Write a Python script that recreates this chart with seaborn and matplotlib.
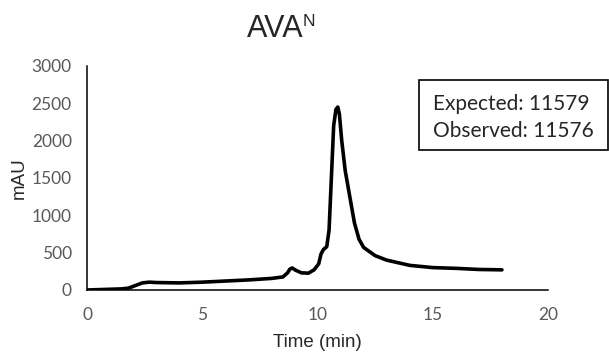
import matplotlib
matplotlib.use('Agg')
import matplotlib.pyplot as plt
from matplotlib.patches import Rectangle
import seaborn as sns
import pandas as pd

# chromatogram trace
time_min = [0, 0.5, 1.0, 1.5, 1.8, 2.1, 2.4, 2.7, 3.0, 4.0, 5.0, 6.0, 7.0, 8.0, 8.5, 8.7,
            8.8, 8.9, 9.05, 9.3, 9.6, 9.85, 10.05, 10.15, 10.25, 10.4, 10.5, 10.6, 10.7,
            10.8, 10.88, 10.95, 11.05, 11.2, 11.4, 11.6, 11.8, 12.0, 12.5, 13.0, 14.0,
            15.0, 16.0, 17.0, 18.0]
mau = [0, 5, 10, 15, 25, 60, 95, 105, 100, 95, 105, 120, 135, 155, 175, 230,
       280, 295, 265, 230, 225, 270, 350, 480, 540, 580, 800, 1500, 2200,
       2420, 2450, 2350, 2000, 1600, 1250, 900, 680, 570, 460, 400, 330,
       300, 290, 275, 270]
x_ticks = [0, 5, 10, 15, 20]
y_ticks = [0, 500, 1000, 1500, 2000, 2500, 3000]
box_lines = ['Expected: 11579', 'Observed: 11576']

df = pd.DataFrame({'time': time_min, 'mau': mau})

sns.set_style('white')
plt.rcParams['font.family'] = ['Liberation Sans', 'DejaVu Sans']

fig = plt.figure(figsize=(6.09, 3.55), dpi=100)
ax = fig.add_axes([0.1429, 0.1831, 0.757, 0.631])

sns.lineplot(data=df, x='time', y='mau', color='black', linewidth=2.6, ax=ax)

ax.set_xlim(0, 20)
ax.set_ylim(0, 3000)
ax.set_xticks(x_ticks)
ax.set_yticks(y_ticks)
ax.tick_params(axis='y', length=0, labelsize=12.5, labelcolor='#595959', pad=11)
ax.tick_params(axis='x', length=0, labelsize=12.5, labelcolor='#595959', pad=12)
for lab in ax.get_xticklabels() + ax.get_yticklabels():
    lab.set_family(['Lato', 'DejaVu Sans'])
ax.set_xlabel('Time (min)', fontsize=13.5, labelpad=8)
ax.set_ylabel('mAU', fontsize=13.5, labelpad=3)

sns.despine(ax=ax, top=True, right=True)
for s in ['left', 'bottom']:
    ax.spines[s].set_color('black')
    ax.spines[s].set_linewidth(1.1)

# title with superscript N
fig.text(0.4056, 0.896, 'AVA', fontsize=22, ha='left', va='baseline')
fig.text(0.4975, 0.927, 'N', fontsize=12.5, ha='left', va='baseline')

# annotation box
fig.patches.append(Rectangle((0.688, 0.5775), 0.310, 0.197, transform=fig.transFigure,
                             facecolor='white', edgecolor='black', linewidth=1.2))
fig.text(0.711, 0.690, box_lines[0], fontsize=15, family=['Lato', 'DejaVu Sans'],
         ha='left', va='baseline')
fig.text(0.711, 0.614, box_lines[1], fontsize=15, family=['Lato', 'DejaVu Sans'],
         ha='left', va='baseline')

fig.savefig('out.png', dpi=100)
